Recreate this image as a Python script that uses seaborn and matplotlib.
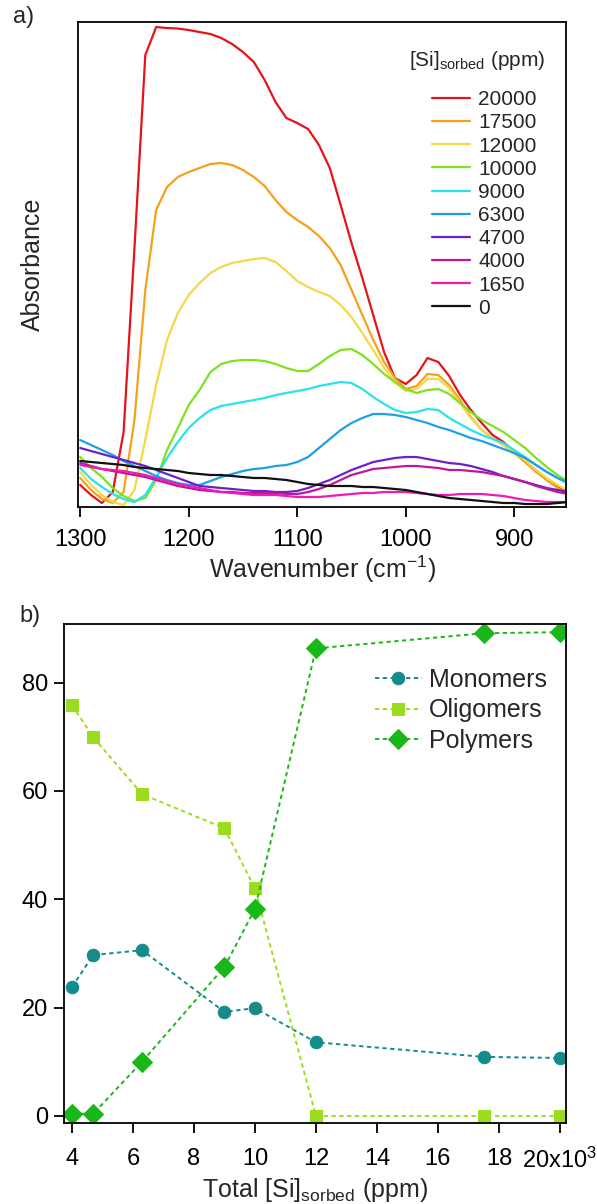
import numpy as np
import pandas as pd
import seaborn as sns
import matplotlib
matplotlib.use('Agg')
import matplotlib.pyplot as plt

sns.set_theme(style='ticks')
plt.rcParams['font.family'] = ['Liberation Sans', 'DejaVu Sans']
plt.rcParams['mathtext.fontset'] = 'custom'
plt.rcParams['mathtext.rm'] = 'Liberation Sans'
plt.rcParams['mathtext.it'] = 'Liberation Sans:italic'
plt.rcParams['axes.edgecolor'] = 'black'
plt.rcParams['xtick.color'] = 'black'
plt.rcParams['ytick.color'] = 'black'

# panel a: IR spectra, absorbance (arbitrary units)
wavenumber = np.arange(1300, 849, -10)

conc_labels = ['20000', '17500', '12000', '10000', '9000', '6300', '4700', '4000', '1650', '0']
conc_colors = ['#e5141b', '#f4a11c', '#f3d94a', '#7fe21f', '#2ae2ea', '#1f9fe6',
               '#6a22c8', '#c0169e', '#ec1cb4', '#111111']

abs_20000 = [22, 12, 4, 15, 75, 259, 452, 480, 479, 478.5, 477, 475, 473, 469, 463, 455,
             445, 427, 405, 389, 384, 378, 362, 339, 302, 264, 229, 192, 155, 129, 123,
             132, 149, 145, 131, 112, 97, 84, 72, 65, 55, 45, 37, 27, 20, 14]
abs_17500 = [29, 17, 8, 4, 15, 87, 217, 297, 320, 330, 335, 339, 343, 344, 342, 337,
             330, 321, 307, 295, 287, 280, 271, 259, 242, 217, 192, 167, 145, 129, 118,
             121, 133, 132, 122, 107, 90, 77, 69, 62, 54, 45, 35, 27, 19, 13]
abs_12000 = [35, 22, 12, 5, 2, 17, 67, 122, 167, 194, 212, 224, 234, 240, 244, 246,
             248, 249, 245, 236, 226, 220, 215, 211, 202, 190, 174, 157, 139, 125, 116,
             118, 128, 128, 119, 104, 89, 77, 69, 62, 55, 47, 37, 29, 22, 16]
abs_10000 = [50, 39, 30, 19, 11, 6, 9, 27, 57, 79, 102, 117, 135, 143, 146, 147,
             147, 146, 143, 139, 136, 136, 143, 151, 157, 158, 152, 143, 133, 125, 118,
             114, 117, 118, 113, 104, 95, 87, 81, 75, 67, 59, 49, 40, 32, 25]
abs_9000 = [39, 28, 20, 13, 8, 5, 12, 30, 49, 65, 79, 89, 97, 101, 103, 105,
            107, 109, 112, 114, 116, 118, 121, 123, 125, 124, 118, 110, 103, 97, 94,
            95, 98, 97, 89, 83, 77, 72, 68, 64, 57, 50, 42, 35, 29, 23]
abs_6300 = [67, 62, 57, 52, 46, 41, 36, 31, 27, 24, 22, 22, 26, 30, 33, 36,
            38, 39, 41, 42, 45, 50, 59, 68, 77, 84, 89, 93, 93, 92, 90,
            87, 84, 80, 77, 73, 69, 66, 62, 58, 54, 49, 42, 35, 29, 24]
abs_4700 = [59, 56, 53, 50, 47, 44, 41, 37, 33, 29, 25, 21, 20, 19, 18, 17,
            16, 16, 15, 15, 16, 19, 23, 27, 32, 37, 41, 45, 47, 49, 50,
            50, 48, 46, 44, 43, 41, 38, 35, 31, 28, 25, 22, 19, 17, 15]
abs_4000 = [44, 41, 38, 36, 34, 32, 30, 27, 24, 21, 19, 17, 16, 15, 15, 14,
            14, 14, 14, 13, 13, 15, 18, 22, 27, 32, 35, 38, 39, 40, 41,
            41, 40, 39, 37, 37, 36, 35, 33, 31, 28, 25, 21, 18, 15, 13]
abs_1650 = [42, 40, 38, 37, 36, 34, 32, 29, 26, 23, 21, 19, 17, 15, 14, 13,
            12, 12, 12, 11, 10, 10, 10, 11, 12, 13, 14, 14, 15, 15, 15,
            14, 13, 12, 12, 13, 13, 13, 12, 11, 9, 7, 6, 5, 5, 5]
abs_0 = [46, 45, 44, 43, 42, 40, 39, 38, 37, 36, 34, 33, 32, 32, 31, 30,
         29, 29, 28, 27, 25, 23, 22, 21, 21, 21, 20, 20, 19, 18, 17,
         15, 13, 11, 9, 8, 7, 6, 5, 4, 4, 3, 3, 3, 4, 5]

spectra = [abs_20000, abs_17500, abs_12000, abs_10000, abs_9000,
           abs_6300, abs_4700, abs_4000, abs_1650, abs_0]

# panel b: speciation vs total sorbed Si
total_si = [4, 4.7, 6.3, 9, 10, 12, 17.5, 20]
monomers = [23.8, 29.7, 30.6, 19.2, 19.9, 13.6, 10.9, 10.7]
oligomers = [75.8, 69.9, 59.4, 53.1, 42.0, 0, 0, 0]
polymers = [0.4, 0.4, 10.0, 27.5, 38.2, 86.3, 89.1, 89.3]

fig = plt.figure(figsize=(5.97, 12.04), dpi=100)
ax1 = fig.add_axes([0.1307, 0.5789, 0.818, 0.4028])
ax2 = fig.add_axes([0.1072, 0.0673, 0.8409, 0.4144])

# --- spectra
df = pd.DataFrame({
    'wn': np.tile(wavenumber, len(conc_labels)),
    'absorb': np.concatenate(spectra),
    'conc': np.repeat(conc_labels, len(wavenumber)),
})
sns.lineplot(data=df, x='wn', y='absorb', hue='conc', hue_order=conc_labels,
             palette=conc_colors, estimator=None, lw=1.6, ax=ax1)
ax1.set_xlim(1302, 852)
ax1.set_ylim(0, 485)
ax1.set_yticks([])
ax1.set_xticks([1300, 1200, 1100, 1000, 900])
ax1.set_xlabel('Wavenumber (cm$^{-1}$)', fontsize=18, labelpad=2)
ax1.set_ylabel('Absorbance', fontsize=18, labelpad=24)
ax1.text(0.957, 0.921, '[Si]$_{\\mathrm{sorbed}}$ (ppm)', transform=ax1.transAxes,
         ha='right', va='center', fontsize=15)
ax1.legend(frameon=False, loc='upper right', bbox_to_anchor=(0.978, 0.898),
           fontsize=15, handlelength=1.8, labelspacing=0.2, handletextpad=0.4,
           borderpad=0.4)

# --- speciation
series = [('Monomers', monomers, '#168b8b', 'o', 9),
          ('Oligomers', oligomers, '#9bdc1e', 's', 9),
          ('Polymers', polymers, '#18b818', 'D', 10)]
for name, vals, col, mk, ms in series:
    sns.lineplot(x=total_si, y=vals, ax=ax2, color=col, label=name, marker=mk,
                 markersize=ms, markeredgecolor=col, lw=1.4, linestyle=(0, (2.2, 1.8)))
ax2.set_xlim(3.74, 20.2)
ax2.set_ylim(-1.3, 90.8)
ax2.set_xticks([4, 6, 8, 10, 12, 14, 16, 18, 20])
ax2.set_xticklabels(['4', '6', '8', '10', '12', '14', '16', '18', '20x10$^{3}$'])
ax2.set_yticks([0, 20, 40, 60, 80])
ax2.set_xlabel('Total [Si]$_{\\mathrm{sorbed}}$ (ppm)', fontsize=18, labelpad=2)
ax2.set_ylabel('')
ax2.legend(frameon=False, loc='upper right', bbox_to_anchor=(1.007, 0.957), fontsize=18,
           handlelength=1.85, labelspacing=0.26, handletextpad=0.3, borderpad=0.4)

fig.text(0.022, 0.986, 'a)', fontsize=17, va='center', ha='left')
fig.text(0.033, 0.488, 'b)', fontsize=17, va='center', ha='left')

for ax in (ax1, ax2):
    for s in ax.spines.values():
        s.set_linewidth(1.3)
        s.set_visible(True)
    ax.tick_params(axis='both', labelsize=17, width=1.3, length=7.5, direction='out')
    ax.tick_params(axis='y', pad=4)
ax1.tick_params(axis='x', pad=8.5)
ax2.tick_params(axis='x', pad=10.5)

fig.savefig('out.png', dpi=100)
